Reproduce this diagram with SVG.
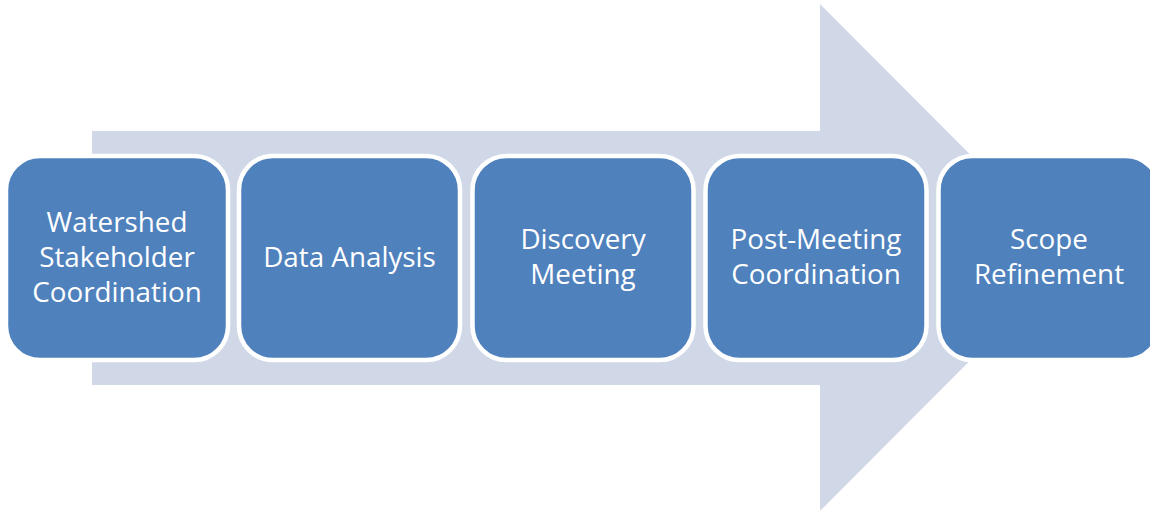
<svg xmlns="http://www.w3.org/2000/svg" width="1150" height="510" viewBox="0 0 1150 510">
<style>
.box{fill:#4F81BD;stroke:#FFFFFF;stroke-width:4.5}
.t{font-family:"Open Sans","Liberation Sans",sans-serif;font-size:27.8px;fill:#FFFFFF;text-anchor:middle}
</style>
<rect width="1150" height="510" fill="#FFFFFF"/>
<g id="arrow">
<polygon points="92,131 820,131 820,4 1073,257.5 820,511 820,385 92,385" fill="#D0D8E8"/>
</g>
<g id="connectors"></g>
<g id="node1">
<rect class="box" x="6" y="156" width="222" height="204" rx="34" ry="34"/>
<text class="t" x="117" y="232">Watershed</text>
<text class="t" x="117" y="267">Stakeholder</text>
<text class="t" x="117" y="302">Coordination</text>
</g>
<g id="node2">
<rect class="box" x="239" y="156" width="221" height="204" rx="34" ry="34"/>
<text class="t" x="349.5" y="267">Data Analysis</text>
</g>
<g id="node3">
<rect class="box" x="472.5" y="156" width="221" height="204" rx="34" ry="34"/>
<text class="t" x="583" y="249">Discovery</text>
<text class="t" x="583" y="284">Meeting</text>
</g>
<g id="node4">
<rect class="box" x="705.5" y="156" width="221" height="204" rx="34" ry="34"/>
<text class="t" x="816" y="249">Post-Meeting</text>
<text class="t" x="816" y="284">Coordination</text>
</g>
<g id="node5">
<rect class="box" x="938.5" y="156" width="221" height="204" rx="34" ry="34"/>
<text class="t" x="1049" y="249">Scope</text>
<text class="t" x="1049" y="284">Refinement</text>
</g>
</svg>
